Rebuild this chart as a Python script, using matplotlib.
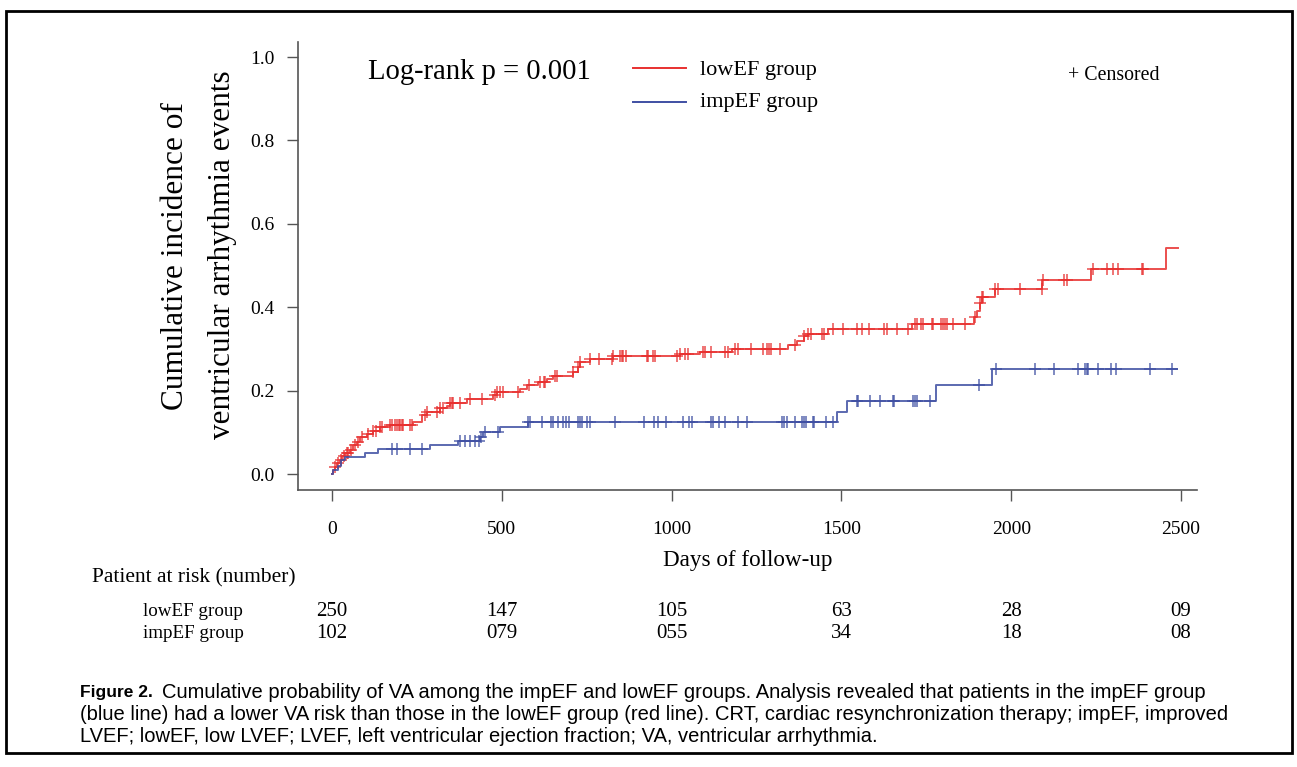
import matplotlib
matplotlib.use("Agg")
import matplotlib.pyplot as plt
import matplotlib.transforms as mtransforms
from matplotlib.patches import Rectangle
import numpy as np

# cumulative incidence step data (days, incidence)
low_time = [0, 4, 9, 16, 24, 31, 39, 53, 63, 73, 82, 102, 122, 141, 171, 240, 264, 279,
            318, 338, 347, 397, 475, 485, 554, 573, 608, 632, 652, 711, 725, 730, 760, 828,
            1025, 1084, 1177, 1343, 1370, 1390, 1402, 1461, 1707, 1890, 1898, 1908, 1913,
            1952, 2092, 2235, 2455]
low_inc = [0.0, 0.010, 0.018, 0.026, 0.034, 0.043, 0.051, 0.059, 0.069, 0.077, 0.088, 0.096,
           0.104, 0.113, 0.119, 0.125, 0.141, 0.149, 0.158, 0.163, 0.171, 0.179, 0.189, 0.197,
           0.205, 0.213, 0.221, 0.227, 0.235, 0.245, 0.257, 0.269, 0.277, 0.283, 0.288, 0.293,
           0.301, 0.310, 0.320, 0.330, 0.336, 0.347, 0.359, 0.376, 0.392, 0.411, 0.425, 0.443,
           0.465, 0.492, 0.543]
low_end = 2490

imp_time = [0, 4, 18, 28, 38, 97, 136, 289, 370, 436, 446, 495, 576, 1488, 1515, 1779, 1943]
imp_inc = [0.0, 0.010, 0.020, 0.034, 0.040, 0.050, 0.060, 0.070, 0.080, 0.090, 0.100, 0.113,
           0.125, 0.149, 0.175, 0.213, 0.251]
imp_end = 2487

# censored times
low_cens = [9, 19, 28, 35, 43, 48, 57, 68, 77, 87, 107, 122, 131, 141, 146, 171, 176, 186,
            191, 196, 201, 205, 210, 230, 237, 273, 280, 309, 318, 328, 347, 352, 357, 377,
            407, 441, 480, 485, 495, 505, 549, 579, 613, 623, 628, 657, 662, 711, 725, 730,
            760, 785, 824, 828, 848, 853, 858, 866, 927, 931, 946, 951, 1015, 1025, 1040,
            1047, 1092, 1098, 1115, 1157, 1167, 1187, 1196, 1234, 1268, 1282, 1288, 1292,
            1319, 1363, 1390, 1403, 1410, 1442, 1449, 1476, 1504, 1547, 1560, 1580, 1625,
            1635, 1665, 1697, 1717, 1723, 1734, 1741, 1766, 1771, 1792, 1798, 1805, 1810,
            1828, 1864, 1893, 1908, 1913, 1918, 1952, 1962, 2026, 2090, 2095, 2154, 2163,
            2242, 2283, 2301, 2315, 2384, 2389]
imp_cens = [176, 191, 230, 264, 377, 392, 406, 421, 434, 439, 451, 490, 578, 583, 617, 644,
            650, 667, 680, 689, 699, 725, 730, 735, 750, 760, 833, 919, 948, 961, 985, 1033,
            1052, 1059, 1115, 1123, 1140, 1157, 1196, 1221, 1324, 1331, 1339, 1363, 1383,
            1390, 1396, 1415, 1419, 1455, 1476, 1546, 1550, 1584, 1614, 1651, 1655, 1712,
            1717, 1722, 1761, 1906, 1955, 2071, 2126, 2198, 2217, 2222, 2227, 2256, 2293,
            2309, 2409, 2473]

risk_days = [0, 500, 1000, 1500, 2000, 2500]
risk_low = ["250", "147", "105", "63", "28", "09"]
risk_imp = ["102", "079", "055", "34", "18", "08"]

RED = "#e8302f"
BLUE = "#3f4fa3"
SERIF = "Liberation Serif"

W, H = 1297, 767
fig = plt.figure(figsize=(W / 100, H / 100), dpi=100)
ax = fig.add_axes([298 / W, 1 - 490 / H, (1197 - 298) / W, (490 - 42) / H])


def step_at(times, inc, t):
    idx = np.searchsorted(times, t, side="right") - 1
    return np.asarray(inc)[idx]


for times, inc, end, cens, col in [
    (low_time, low_inc, low_end, low_cens, RED),
    (imp_time, imp_inc, imp_end, imp_cens, BLUE),
]:
    x = np.append(times, end)
    y = np.append(inc, inc[-1])
    ax.step(x, y, where="post", color=col, lw=1.4, alpha=0.85)
    ax.plot(cens, step_at(times, inc, cens), ls="none", marker="+", ms=8,
            mew=1.1, color=col, alpha=0.85)

ax.set_xlim(-100, 2547)
ax.set_ylim(-0.038, 1.036)
ax.set_xticks(risk_days)
ax.set_yticks([0.0, 0.2, 0.4, 0.6, 0.8, 1.0])
ax.set_yticklabels(["0.0", "0.2", "0.4", "0.6", "0.8", "1.0"])
for s in ["top", "right"]:
    ax.spines[s].set_visible(False)
for s in ["left", "bottom"]:
    ax.spines[s].set_color("#555555")
    ax.spines[s].set_linewidth(1.2)
ax.tick_params(axis="both", colors="#555555", length=8, width=1.0, labelcolor="black")
ax.tick_params(axis="x", pad=14)
ax.tick_params(axis="y", pad=9)
for lab in ax.get_xticklabels() + ax.get_yticklabels():
    lab.set_fontfamily(SERIF)
    lab.set_fontsize(14)

ax.set_xlabel("Days of follow-up", fontfamily=SERIF, fontsize=16.7, labelpad=9)
fig.text(175 / W, 1 - 256 / H, "Cumulative incidence of", rotation=90,
         ha="center", va="center", fontfamily=SERIF, fontsize=22.5)
fig.text(222 / W, 1 - 255 / H, "ventricular arrhythmia events", rotation=90,
         ha="center", va="center", fontfamily=SERIF, fontsize=22.5)

fig.text(368 / W, 1 - 72 / H, "Log-rank p = 0.001", ha="left", va="center",
         fontfamily=SERIF, fontsize=20.6)
fig.add_artist(plt.Line2D([633 / W, 686 / W], [1 - 68 / H] * 2, color=RED, lw=1.4))
fig.add_artist(plt.Line2D([633 / W, 686 / W], [1 - 102 / H] * 2, color=BLUE, lw=1.4))
fig.text(700 / W, 1 - 70 / H, "lowEF group", ha="left", va="center",
         fontfamily=SERIF, fontsize=16)
fig.text(700 / W, 1 - 103 / H, "impEF group", ha="left", va="center",
         fontfamily=SERIF, fontsize=16)
fig.text(1068 / W, 1 - 76 / H, "+ Censored", ha="left", va="center",
         fontfamily=SERIF, fontsize=14.3)

# at-risk table
fig.text(92 / W, 1 - 578 / H, "Patient at risk (number)", ha="left", va="center",
         fontfamily=SERIF, fontsize=15.5)
fig.text(143 / W, 1 - 612 / H, "lowEF group", ha="left", va="center",
         fontfamily=SERIF, fontsize=13.7)
fig.text(143 / W, 1 - 634 / H, "impEF group", ha="left", va="center",
         fontfamily=SERIF, fontsize=13.7)
trans = mtransforms.blended_transform_factory(ax.transData, fig.transFigure)
for d, a, b in zip(risk_days, risk_low, risk_imp):
    fig.text(d, 1 - 612 / H, a, transform=trans, ha="center", va="center",
             fontfamily=SERIF, fontsize=15)
    fig.text(d, 1 - 634 / H, b, transform=trans, ha="center", va="center",
             fontfamily=SERIF, fontsize=15)

# caption
SANS = "Liberation Sans"
CAP = 14.5
fig.text(80 / W, 1 - 693 / H, "Figure 2.", ha="left", va="center",
         fontfamily=SANS, fontweight="bold", fontsize=12.5)
fig.text(162 / W, 1 - 693 / H,
         "Cumulative probability of VA among the impEF and lowEF groups. Analysis revealed that patients in the impEF group",
         ha="left", va="center", fontfamily=SANS, fontsize=CAP)
fig.text(80 / W, 1 - 715 / H,
         "(blue line) had a lower VA risk than those in the lowEF group (red line). CRT, cardiac resynchronization therapy; impEF, improved",
         ha="left", va="center", fontfamily=SANS, fontsize=CAP)
fig.text(80 / W, 1 - 737 / H,
         "LVEF; lowEF, low LVEF; LVEF, left ventricular ejection fraction; VA, ventricular arrhythmia.",
         ha="left", va="center", fontfamily=SANS, fontsize=CAP)

fig.add_artist(Rectangle((6 / W, 1 - 753 / H), (1292 - 6) / W, (753 - 11) / H,
                         transform=fig.transFigure, fill=False, ec="black", lw=2))

fig.savefig("out.png", dpi=100)
